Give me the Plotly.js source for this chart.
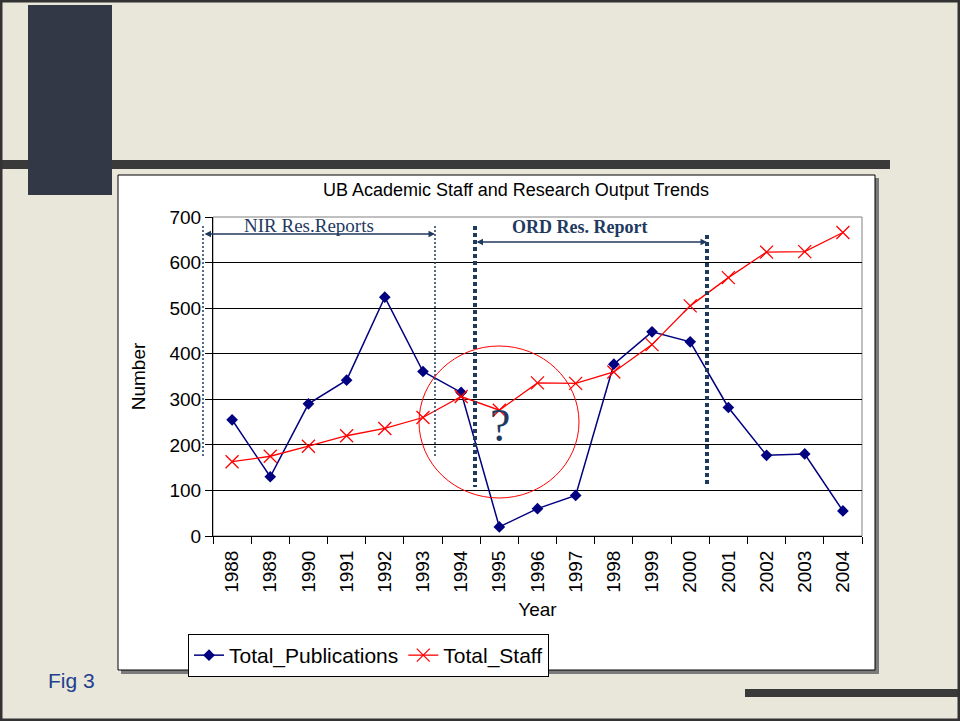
<!DOCTYPE html>
<html>
<head>
<meta charset="utf-8">
<script src="https://cdn.plot.ly/plotly-3.0.1.min.js"></script>
<style>html,body{margin:0;padding:0;background:#E8E7DA;}#chart{width:960px;height:721px;}</style>
</head>
<body>
<div id="chart"></div>
<script>
// ---- data ----
const years = ['1988','1989','1990','1991','1992','1993','1994','1995','1996','1997','1998','1999','2000','2001','2002','2003','2004'];
const totalPublications = [255, 130, 290, 342, 524, 361, 315, 20, 60, 89, 377, 448, 426, 282, 177, 180, 55];
const totalStaff = [163, 175, 197, 220, 236, 260, 306, 276, 336, 335, 360, 420, 505, 567, 623, 624, 666];
const yTicks = [0, 100, 200, 300, 400, 500, 600, 700];

// ---- geometry helpers (pixel -> paper) ----
const L = 213, R = 862, T = 217, B = 536;
const px = x => (x - L) / (R - L);
const py = y => (B - y) / (B - T);
const NAVY = '#1F3A5F';

function rect(x0, y0, x1, y1, fill, line, layer) {
  return {type: 'rect', xref: 'paper', yref: 'paper', x0: px(x0), x1: px(x1), y0: py(y1), y1: py(y0),
    fillcolor: fill, line: line || {width: 0}, layer: layer || 'below'};
}
function vline(x, y0, y1, width, dash) {
  return {type: 'line', xref: 'paper', yref: 'paper', x0: px(x), x1: px(x), y0: py(y0), y1: py(y1),
    line: {color: NAVY, width: width, dash: dash}, layer: 'above'};
}

const shapes = [
  rect(0, 160, 890, 169, '#3A3A3A'),
  rect(28, 5, 112, 195, '#333846'),
  rect(745, 689, 960, 697, '#3A3A3A'),
  rect(121, 178, 879, 674, '#7A7A7A'),
  rect(118, 175, 875, 670, '#FFFFFF', {color: '#000', width: 1}),
  rect(1, 1, 959, 720, 'rgba(0,0,0,0)', {color: '#333', width: 3}),
  {type: 'rect', xref: 'paper', yref: 'paper', x0: 0, x1: 1, y0: 0, y1: 1, line: {color: '#808080', width: 1}, fillcolor: 'rgba(0,0,0,0)', layer: 'below'},
  vline(203, 226, 456, 1.5, '2px,2px'),
  vline(435, 226, 456, 1.5, '2px,2px'),
  vline(475, 226, 487, 4, '4px,3px'),
  vline(707, 235, 487, 4, '4px,3px'),
  {type: 'circle', xref: 'paper', yref: 'paper', x0: px(419), x1: px(579), y0: py(498), y1: py(346),
    line: {color: '#FF0000', width: 1}, layer: 'above'}
];

const annotations = [
  {xref: 'paper', yref: 'paper', x: px(309), y: py(225), xanchor: 'center', yanchor: 'middle', text: 'NIR Res.Reports', showarrow: false,
    font: {family: 'Liberation Serif, Times New Roman, serif', size: 19, color: NAVY}},
  {xref: 'paper', yref: 'paper', x: px(579), y: py(227), xanchor: 'center', yanchor: 'middle', text: '<b>ORD Res. Report</b>', showarrow: false,
    font: {family: 'Liberation Serif, Times New Roman, serif', size: 18, color: NAVY}},
  {xref: 'paper', yref: 'paper', x: px(435), y: py(234), ax: 203 - 435, ay: 0, text: '', showarrow: true,
    arrowside: 'end+start', arrowhead: 2, arrowsize: 1, arrowwidth: 1.3, arrowcolor: NAVY, standoff: 0, startstandoff: 0},
  {xref: 'paper', yref: 'paper', x: px(707), y: py(242), ax: 475 - 707, ay: 0, text: '', showarrow: true,
    arrowside: 'end+start', arrowhead: 2, arrowsize: 1, arrowwidth: 1.3, arrowcolor: NAVY, standoff: 0, startstandoff: 0},
  {xref: 'paper', yref: 'paper', x: px(500), y: py(425), xanchor: 'center', yanchor: 'middle', text: '?', showarrow: false,
    font: {family: 'Liberation Serif, Times New Roman, serif', size: 46, color: NAVY}},
  {xref: 'paper', yref: 'paper', x: px(71), y: py(680), xanchor: 'center', yanchor: 'middle', text: 'Fig 3', showarrow: false,
    font: {family: 'Liberation Sans, Arial, sans-serif', size: 21, color: '#23408E'}}
];

const traces = [
  {type: 'scatter', mode: 'lines+markers', name: 'Total_Publications', x: years, y: totalPublications,
    line: {color: '#000080', width: 1.5}, marker: {symbol: 'diamond', size: 9, color: '#000080'}},
  {type: 'scatter', mode: 'lines+markers', name: 'Total_Staff', x: years, y: totalStaff,
    line: {color: '#FF0000', width: 1.3},
    marker: {symbol: 'x-thin', size: 13, color: '#FF0000', line: {color: '#FF0000', width: 1.3}}}
];

const layout = {
  width: 960, height: 721,
  margin: {l: L, r: 960 - R, t: T, b: 721 - B},
  paper_bgcolor: '#E8E7DA',
  plot_bgcolor: 'rgba(0,0,0,0)',
  font: {family: 'Liberation Sans, Arial, sans-serif', color: '#000'},
  title: {text: 'UB Academic Staff and Research Output Trends', x: 516 / 960, y: 1 - 190 / 721,
    xref: 'container', yref: 'container', xanchor: 'center', yanchor: 'middle',
    font: {size: 18, color: '#000'}},
  xaxis: {type: 'category', range: [-0.5, years.length - 0.5], autorange: false,
    tickangle: -90, tickfont: {size: 19}, ticks: 'outside', ticklen: 7, ticklabelstandoff: 6,
    tickson: 'boundaries', tickcolor: '#000', showline: true, linecolor: '#000', linewidth: 1,
    showgrid: false, zeroline: false, fixedrange: true,
    title: {text: 'Year', font: {size: 19}, standoff: 10}},
  yaxis: {range: [0, 700], autorange: false, tickvals: yTicks, tickfont: {size: 19}, ticks: 'outside', ticklen: 7,
    tickcolor: '#000', showline: true, linecolor: '#000', linewidth: 1,
    showgrid: true, gridcolor: '#000', gridwidth: 1, zeroline: false, fixedrange: true,
    title: {text: 'Number', font: {size: 19}, standoff: 18}},
  showlegend: true,
  legend: {orientation: 'h', x: px(188), y: py(634), xanchor: 'left', yanchor: 'top',
    bgcolor: '#FFFFFF', bordercolor: '#000', borderwidth: 1, font: {size: 21}, itemwidth: 30,
    tracegroupgap: 0},
  shapes: shapes,
  annotations: annotations
};

Plotly.newPlot('chart', traces, layout, {displayModeBar: false, staticPlot: true});
</script>
</body>
</html>
